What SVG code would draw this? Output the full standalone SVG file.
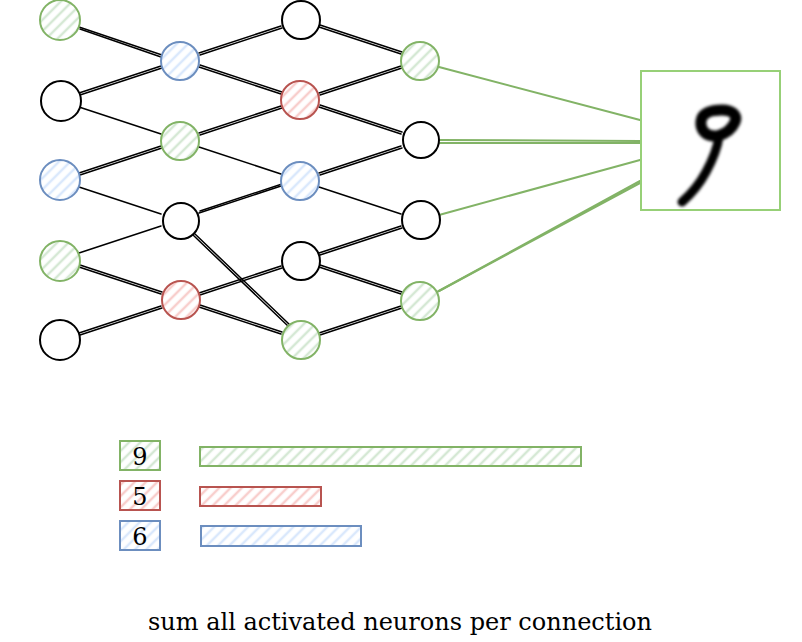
<svg xmlns="http://www.w3.org/2000/svg" width="802" height="642" viewBox="0 0 802 642">
<style>
.e{stroke:#000;stroke-width:1.5;fill:none;stroke-linecap:round}
.g{stroke:#82b366;stroke-width:2;fill:none;stroke-linecap:round}
.n{stroke-width:2}
.k{stroke:#000;fill:#fff}
.gn{stroke:#82b366;fill:url(#hg)}
.rn{stroke:#b85450;fill:url(#hr)}
.bn{stroke:#6c8ebf;fill:url(#hb)}
.t{font-family:"DejaVu Serif",serif;font-size:24px;fill:#000}
</style>
<defs>
<pattern id="hg" width="8" height="8" patternUnits="userSpaceOnUse" patternTransform="rotate(-45)"><rect width="8" height="8" fill="#fff"/><line x1="0" y1="4" x2="8" y2="4" stroke="#d5e8d4" stroke-width="2.5"/></pattern>
<pattern id="hr" width="8" height="8" patternUnits="userSpaceOnUse" patternTransform="rotate(-45)"><rect width="8" height="8" fill="#fff"/><line x1="0" y1="4" x2="8" y2="4" stroke="#f8cecc" stroke-width="2.5"/></pattern>
<pattern id="hb" width="8" height="8" patternUnits="userSpaceOnUse" patternTransform="rotate(-45)"><rect width="8" height="8" fill="#fff"/><line x1="0" y1="4" x2="8" y2="4" stroke="#dae8fc" stroke-width="2.5"/></pattern>
<filter id="blur" x="-20%" y="-20%" width="140%" height="140%"><feGaussianBlur stdDeviation="1.4"/></filter>
</defs>
<g id="connectors">
<line class="e" x1="79" y1="27" x2="162" y2="55"/><line class="e" x1="80" y1="29" x2="161" y2="57"/>
<line class="e" x1="79" y1="93" x2="161" y2="66"/><line class="e" x1="80" y1="95" x2="162" y2="68"/>
<line class="e" x1="79" y1="107" x2="161" y2="134"/>
<line class="e" x1="79" y1="173" x2="161" y2="146"/><line class="e" x1="80" y1="175" x2="162" y2="148"/>
<line class="e" x1="79" y1="187" x2="161" y2="214"/>
<line class="e" x1="79" y1="253" x2="161" y2="226"/>
<line class="e" x1="79" y1="267" x2="161" y2="294"/><line class="e" x1="80" y1="265" x2="162" y2="292"/>
<line class="e" x1="79" y1="333" x2="161" y2="306"/><line class="e" x1="80" y1="335" x2="162" y2="308"/>
<line class="e" x1="199" y1="53" x2="281" y2="26"/><line class="e" x1="200" y1="55" x2="282" y2="28"/>
<line class="e" x1="199" y1="67" x2="281" y2="94"/><line class="e" x1="200" y1="65" x2="282" y2="92"/>
<line class="e" x1="199" y1="133" x2="281" y2="106"/><line class="e" x1="200" y1="135" x2="282" y2="108"/>
<line class="e" x1="199" y1="147" x2="281" y2="174"/>
<line class="e" x1="199" y1="213" x2="281" y2="186"/><line class="e" x1="200" y1="211" x2="282" y2="184"/>
<line class="e" x1="193" y1="235" x2="288" y2="326"/><line class="e" x1="195" y1="234" x2="290" y2="325"/>
<line class="e" x1="199" y1="293" x2="281" y2="266"/><line class="e" x1="200" y1="295" x2="282" y2="268"/>
<line class="e" x1="199" y1="307" x2="281" y2="334"/><line class="e" x1="200" y1="305" x2="282" y2="332"/>
<line class="e" x1="319" y1="27" x2="401" y2="54"/><line class="e" x1="320" y1="25" x2="402" y2="52"/>
<line class="e" x1="319" y1="93" x2="401" y2="66"/><line class="e" x1="320" y1="95" x2="402" y2="68"/>
<line class="e" x1="319" y1="107" x2="401" y2="134"/><line class="e" x1="320" y1="105" x2="402" y2="132"/>
<line class="e" x1="319" y1="173" x2="401" y2="146"/><line class="e" x1="320" y1="175" x2="402" y2="148"/>
<line class="e" x1="319" y1="187" x2="401" y2="214"/>
<line class="e" x1="319" y1="253" x2="401" y2="226"/><line class="e" x1="320" y1="255" x2="402" y2="228"/>
<line class="e" x1="319" y1="267" x2="401" y2="294"/><line class="e" x1="320" y1="265" x2="402" y2="292"/>
<line class="e" x1="319" y1="333" x2="401" y2="306"/><line class="e" x1="320" y1="335" x2="402" y2="308"/>
<line class="g" x1="439" y1="67" x2="640" y2="120"/>
<line class="g" x1="439" y1="140" x2="640" y2="141"/><line class="g" x1="440" y1="143" x2="640" y2="143"/>
<line class="g" x1="439" y1="215" x2="640" y2="160"/>
<line class="g" x1="437" y1="292" x2="640" y2="181"/><line class="g" x1="439" y1="291" x2="640" y2="183"/>
</g>
<g id="n1-1"><circle class="n gn" cx="60" cy="20" r="20"/></g>
<g id="n1-2"><circle class="n k" cx="61" cy="101" r="20"/></g>
<g id="n1-3"><circle class="n bn" cx="60" cy="180" r="20"/></g>
<g id="n1-4"><circle class="n gn" cx="60" cy="261" r="20"/></g>
<g id="n1-5"><circle class="n k" cx="60" cy="340" r="20"/></g>
<g id="n2-1"><circle class="n bn" cx="180" cy="61" r="19"/></g>
<g id="n2-2"><circle class="n gn" cx="180" cy="141" r="19"/></g>
<g id="n2-3"><circle class="n k" cx="181" cy="221" r="18"/></g>
<g id="n2-4"><circle class="n rn" cx="181" cy="300" r="19"/></g>
<g id="n3-1"><circle class="n k" cx="301" cy="20" r="19"/></g>
<g id="n3-2"><circle class="n rn" cx="300" cy="100" r="19"/></g>
<g id="n3-3"><circle class="n bn" cx="300" cy="181" r="19"/></g>
<g id="n3-4"><circle class="n k" cx="301" cy="261" r="19"/></g>
<g id="n3-5"><circle class="n gn" cx="301" cy="340" r="19"/></g>
<g id="n4-1"><circle class="n gn" cx="420" cy="61" r="19"/></g>
<g id="n4-2"><circle class="n k" cx="421" cy="140" r="18"/></g>
<g id="n4-3"><circle class="n k" cx="421" cy="220" r="19"/></g>
<g id="n4-4"><circle class="n gn" cx="420" cy="301" r="19"/></g>
<g id="image">
<rect x="641" y="71" width="139" height="139" fill="#fff" stroke="#97d077" stroke-width="2"/>
<g filter="url(#blur)" stroke="#000" fill="none" stroke-linecap="round" stroke-linejoin="round">
<path d="M717 136 C706 137 700 130 701 121 C702 113 711 110 722 110 C732 110 738 115 735 122 C732 129 725 134 717 136 Z" stroke-width="11"/>
<path d="M719 137 C717 150 712 161 706 172 C699 185 690 195 682 202" stroke-width="9"/>
</g>
</g>
<g id="leg-9"><rect class="n gn" x="120" y="441" width="40" height="29"/><text class="t" x="140" y="465" text-anchor="middle">9</text></g>
<g id="leg-5"><rect class="n rn" x="120" y="481" width="40" height="29"/><text class="t" x="140" y="505" text-anchor="middle">5</text></g>
<g id="leg-6"><rect class="n bn" x="120" y="521" width="40" height="29"/><text class="t" x="140" y="545" text-anchor="middle">6</text></g>
<g id="bar-9"><rect class="n gn" x="200" y="447" width="381" height="19"/></g>
<g id="bar-5"><rect class="n rn" x="200" y="487" width="121" height="19"/></g>
<g id="bar-6"><rect class="n bn" x="201" y="526" width="160" height="20"/></g>
<text class="t" x="400" y="630" text-anchor="middle">sum all activated neurons per connection</text>
</svg>
